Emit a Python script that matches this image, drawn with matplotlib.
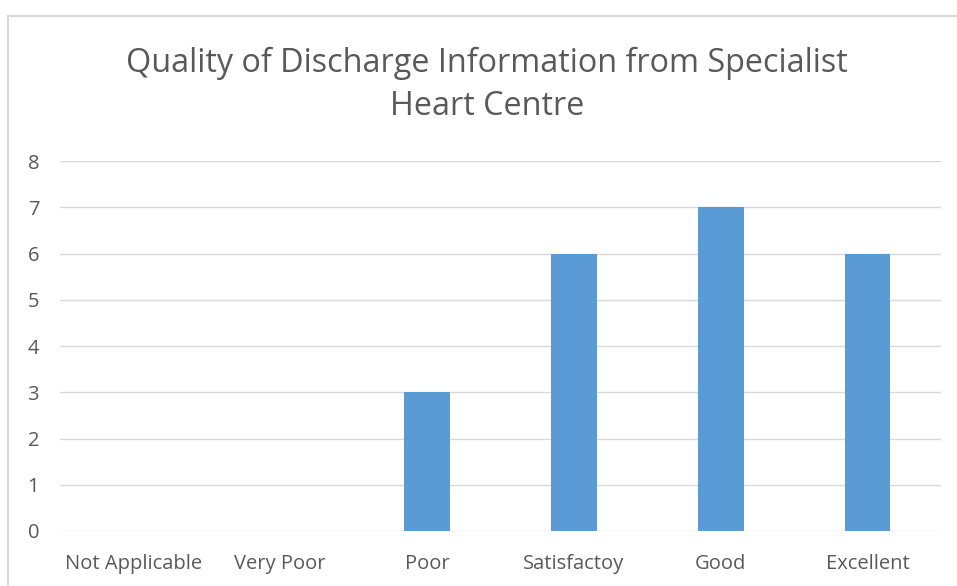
import matplotlib
matplotlib.use("Agg")
import matplotlib.pyplot as plt
from matplotlib.patches import Rectangle

categories = ["Not Applicable", "Very Poor", "Poor", "Satisfactoy", "Good", "Excellent"]
values = [0, 0, 3, 6, 7, 6]
yticks = [0, 1, 2, 3, 4, 5, 6, 7, 8]
title = "Quality of Discharge Information from Specialist\nHeart Centre"

plt.rcParams['font.family'] = ['Open Sans', 'DejaVu Sans']

W, H = 957, 586
fig = plt.figure(figsize=(W/100, H/100), dpi=100)
fig.patch.set_facecolor("white")

# outer chart border
fig.add_artist(Rectangle((8/W, -0.05), 1.1, (H-16)/H + 0.05, transform=fig.transFigure,
                         fill=False, edgecolor="#D9D9D9", linewidth=1.5))

ax = fig.add_axes([60/W, (H-531)/H, (941-60)/W, (531-161)/H])
x = range(len(categories))
ax.bar(x, values, width=0.31, color="#5B9BD5", zorder=3)
ax.set_xlim(-0.5, len(categories)-0.5)
ax.set_ylim(0, 8)
ax.set_yticks(yticks)
ax.set_xticks(list(x))
ax.set_xticklabels(categories)
ax.grid(axis="y", color="#D9D9D9", linewidth=1, zorder=0)
for s in ax.spines.values():
    s.set_visible(False)
ax.tick_params(length=0, colors="#595959", labelsize=14.5)
ax.tick_params(axis="y", pad=15)
ax.tick_params(axis="x", pad=16.5)

fig.text(487/W, 1-85/H, title, ha="center", va="center", fontsize=23.3,
         color="#595959", linespacing=1.39)

fig.savefig("out.png", dpi=100)
